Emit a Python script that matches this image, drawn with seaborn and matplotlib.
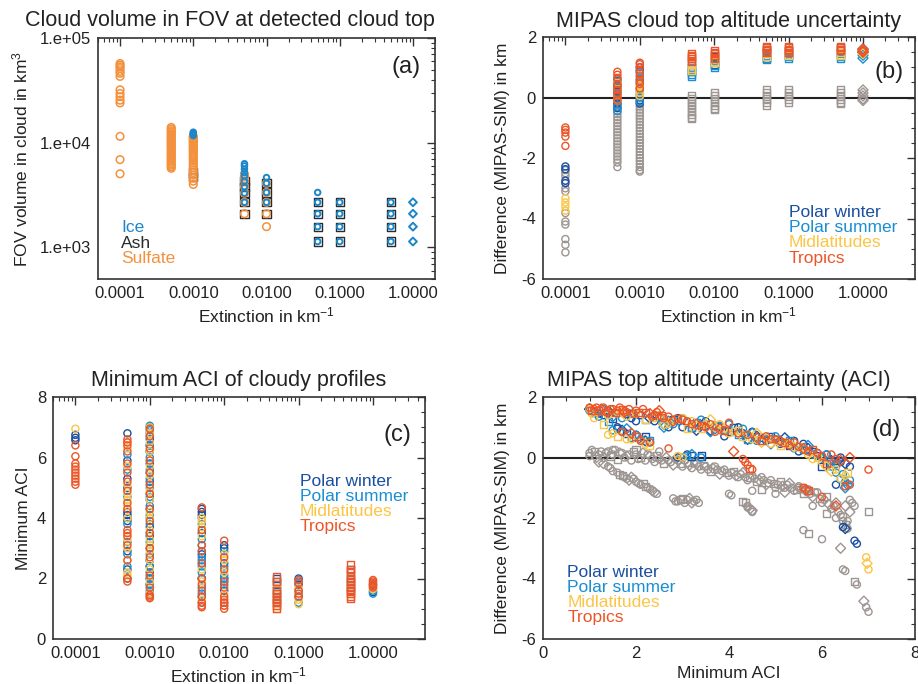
import numpy as np
import pandas as pd
import matplotlib
matplotlib.use("Agg")
import matplotlib.pyplot as plt
import seaborn as sns
from matplotlib.ticker import FixedLocator, FuncFormatter, LogLocator, MultipleLocator, NullFormatter

sns.set_style("white")
plt.rcParams["font.family"] = ["Liberation Sans", "DejaVu Sans"]
plt.rcParams["mathtext.fontset"] = "custom"
plt.rcParams["mathtext.rm"] = "Liberation Sans"
plt.rcParams["mathtext.it"] = "Liberation Sans:italic"
plt.rcParams["axes.unicode_minus"] = False

# ---------------- data ----------------
EXT = [1e-4, 5e-4, 1e-3, 5e-3, 1e-2, 5e-2, 1e-1, 5e-1, 1.0]
EXT_TICKS = [1e-4, 1e-3, 1e-2, 1e-1, 1.0]

# panel (a): FOV volume (km^3) per extinction column
A_SULFATE = [
    [57000, 55000, 53000, 51000, 48000, 46000, 43000, 32000, 29500, 27500, 25500, 24000, 11500, 6900, 5050],
    [14000, 13500, 13000, 12600, 12200, 11800, 11400, 11000, 10700, 10400, 10100, 9800, 9500, 9200,
     8900, 8600, 8300, 8000, 7750, 7500, 7250, 7000, 6750, 6500, 6300, 6100, 5900, 5700],
    [11500, 11200, 10900, 10600, 10300, 10000, 9700, 9400, 9100, 8800, 8500, 8200, 7900, 7600,
     7300, 7000, 6700, 6400, 6100, 5800, 5500, 5200, 4900, 4600, 4300, 4000],
    [5000, 4700, 4300, 3800, 3300, 2700, 2100],
    [4100, 3350, 2700, 2100, 1580],
    [], [], [], [],
]
A_ASH = [
    [], [], [5200, 4700],
    [4300, 3800, 3300, 2700, 2100],
    [4100, 3350, 2700, 2100],
    [2700, 2100, 1580, 1140],
    [2700, 2100, 1580, 1140],
    [2700, 2100, 1580, 1140],
    [],
]
A_ICE = [
    [], [], [12600, 12300, 12000, 11700],
    [6300, 6000, 5600, 5200, 4800, 4300, 3800, 3300, 2700],
    [4650, 4100, 3350, 2700],
    [3350, 2700, 2100, 1580, 1140],
    [2700, 2100, 1580, 1140],
    [2700, 2100, 1580, 1140],
    [2700, 2100, 1580, 1140],
]

# panel (b): MIPAS-SIM difference (km) per extinction column
B_WINTER = [
    [-2.28, -2.37, -2.75, -2.83],
    [0.55, 0.4, 0.2, 0.0, -0.2, -0.35],
    [1.0, 0.9, 0.6, 0.3, 0.1, -0.1, -0.2],
    [1.2, 1.0, 0.85],
    [1.35, 1.2, 1.1],
    [1.6, 1.5, 1.3],
    [1.55, 1.4],
    [1.65, 1.5],
    [1.6, 1.5],
]
B_SUMMER = [
    [],
    [0.6, 0.3, 0.1, -0.3, -0.45],
    [0.85, 0.5, 0.2, 0.0, -0.15],
    [1.0, 0.85, 0.75, 0.7],
    [1.2, 1.05, 1.0],
    [1.4, 1.3, 1.25],
    [1.45, 1.35, 1.3],
    [1.45, 1.35, 1.3],
    [1.5, 1.4, 1.3],
]
B_MID = [
    [-3.33, -3.47, -3.6, -3.74],
    [0.5, 0.25, 0.05, -0.1],
    [0.7, 0.4, 0.35, 0.15, 0.05],
    [1.1, 0.95, 0.9],
    [1.3, 1.2, 1.15],
    [1.45, 1.35],
    [1.5, 1.4],
    [1.5, 1.4],
    [1.55, 1.45],
]
B_TROPICS = [
    [-0.99, -1.07, -1.16, -1.29, -1.60],
    [0.85, 0.75, 0.65, 0.45, 0.35, 0.25, 0.15, 0.05, -0.1],
    [1.15, 1.1, 1.0, 0.8, 0.7, 0.55, 0.45, 0.3],
    [1.45, 1.4, 1.35, 1.3, 1.2],
    [1.55, 1.5, 1.45, 1.4, 1.3],
    [1.7, 1.65, 1.6, 1.55, 1.5],
    [1.7, 1.65, 1.6, 1.55, 1.5],
    [1.7, 1.65, 1.6, 1.55],
    [1.6, 1.55, 1.5],
]
B_GRAY = [
    [-2.4, -2.5, -2.6, -3.0, -3.1, -3.82, -4.1, -4.2, -4.68, -4.87, -5.12],
    [-0.05, -0.15, -0.25, -0.35, -0.45, -0.55, -0.65, -0.75, -0.85, -0.95, -1.05, -1.15, -1.25,
     -1.35, -1.45, -1.55, -1.65, -1.75, -1.85, -1.95, -2.05, -2.15, -2.3],
    [0.0, -0.1, -0.2, -0.3, -0.4, -0.5, -0.6, -0.7, -0.8, -0.9, -1.0, -1.1, -1.2, -1.3, -1.4,
     -1.5, -1.6, -1.7, -1.8, -1.9, -2.0, -2.1, -2.2, -2.3, -2.4, -2.45],
    [0.05, -0.05, -0.15, -0.25, -0.35, -0.45, -0.55, -0.65, -0.7],
    [0.15, 0.05, -0.05, -0.15, -0.25, -0.35, -0.4],
    [0.25, 0.15, 0.05, -0.05, -0.15, -0.25],
    [0.25, 0.15, 0.05, -0.05, -0.15],
    [0.25, 0.15, 0.05, -0.05, -0.15, -0.2],
    [0.25, 0.15, 0.05, -0.05, -0.1],
]

# panel (c): minimum ACI per extinction column
C_WINTER = [
    [6.75, 6.65, 6.57],
    [6.8, 5.9, 5.3, 5.0, 4.2, 4.1, 4.0, 3.9, 2.9, 2.3, 2.0],
    [7.0, 6.8, 6.6, 6.4, 6.2, 5.8, 5.5, 5.2, 4.8, 4.6, 4.3, 4.0, 3.7, 3.4, 3.0, 2.6, 2.4, 2.2,
     2.0, 1.8, 1.5],
    [4.3, 4.2, 4.1, 4.0, 3.5, 2.8, 2.0, 1.4],
    [3.1, 3.0, 2.5, 2.0, 1.6],
    [2.0, 1.8, 1.5, 1.2],
    [2.0, 1.8, 1.4],
    [2.3, 1.9, 1.6],
    [1.8, 1.55],
]
C_SUMMER = [
    [],
    [6.1, 5.6, 4.7, 3.8, 3.2, 2.8, 2.4],
    [7.05, 6.9, 6.7, 6.4, 6.2, 6.0, 5.6, 5.3, 5.0, 4.7, 4.4, 4.1, 3.8, 3.5, 3.2, 2.8, 2.6, 2.4,
     2.0, 1.8, 1.6],
    [3.8, 3.3, 3.1, 2.9, 2.7, 2.6, 2.5, 2.4, 2.2, 2.0, 1.7, 1.5, 1.2],
    [2.9, 2.4, 2.1, 2.0, 1.9, 1.8, 1.2],
    [1.9, 1.6, 1.3],
    [1.9, 1.6, 1.2],
    [2.0, 1.7],
    [1.6, 1.5],
]
C_MID = [
    [6.95],
    [6.5, 6.3, 5.7, 5.1, 4.8, 4.6, 4.4, 4.0, 3.3, 3.0, 2.6, 2.2, 2.1],
    [7.0, 6.8, 6.5, 6.2, 5.9, 5.7, 5.4, 5.1, 4.9, 4.6, 4.2, 4.0, 3.6, 3.3, 3.1, 2.9, 2.6, 2.3,
     2.1, 1.9, 1.7, 1.5],
    [4.0, 3.9, 3.7, 3.4, 2.3, 1.9, 1.3],
    [2.8, 2.6, 2.2, 1.5, 1.1],
    [1.7, 1.4, 1.1, 1.0],
    [1.7, 1.3, 1.15],
    [1.8, 1.5],
    [1.75, 1.7, 1.65],
]
C_TROPICS = [
    [6.4, 6.04, 5.8, 5.7, 5.6, 5.5, 5.4, 5.3, 5.2, 5.1],
    [6.6, 6.5, 6.4, 6.2, 5.8, 5.5, 5.2, 4.9, 4.5, 4.3, 3.6, 3.5, 3.4, 3.1, 2.6, 2.0, 1.9],
    [6.95, 6.7, 6.3, 5.9, 5.5, 5.1, 4.8, 4.3, 3.9, 3.5, 3.0, 2.7, 2.1, 1.7, 1.45, 1.4, 1.35],
    [4.35, 3.6, 3.1, 2.9, 2.5, 2.0, 1.8, 1.6, 1.4, 1.2, 1.1, 1.05],
    [3.25, 2.7, 2.3, 1.9, 1.7, 1.4, 1.3, 1.2, 1.1, 1.0],
    [2.05, 1.9, 1.6, 1.5, 1.4, 1.3, 1.2, 1.1, 1.0],
    [1.95, 1.85, 1.6, 1.5, 1.4],
    [2.45, 2.3, 2.2, 2.1, 2.0, 1.9, 1.8, 1.7, 1.6, 1.5, 1.4, 1.35],
    [1.95, 1.9, 1.85, 1.8, 1.75, 1.7],
]

# panel (d): (minimum ACI, difference) pairs
D_WINTER_X = [1.1, 1.3, 1.5, 1.6, 1.7, 1.9, 2.1, 2.2, 2.4, 2.6, 2.9, 3.0, 3.2, 3.4, 3.6, 3.8, 3.9, 4.1,
              4.3, 4.6, 4.8, 5.0, 5.3, 5.5, 5.7, 5.9, 6.1, 6.3, 6.4, 6.5, 6.6, 3.0, 3.2, 6.45, 6.5,
              6.7, 6.75, 6.0, 6.3,
              1.0, 1.2, 1.4, 1.8, 2.0, 2.3, 2.5, 2.7, 2.8, 3.1, 3.3, 3.5, 3.7, 4.0, 4.2, 4.4, 4.5,
              4.7, 4.9, 5.1, 5.2, 5.4, 5.6, 5.8, 6.0, 6.2, 6.4, 1.6, 1.8, 2.0, 2.2, 2.9, 3.1, 3.4]
D_WINTER_Y = [1.5, 1.4, 1.3, 1.0, 0.9, 1.3, 1.4, 0.7, 1.2, 1.1, 1.3, 1.0, 1.0, 1.1, 0.9, 1.0, 0.7, 1.0,
              0.8, 0.7, 0.55, 0.6, 0.4, 0.2, 0.3, 0.05, 0.1, -0.1, -0.15, -0.2, -0.3, 0.0, 0.05, -2.3,
              -2.35, -2.75, -2.85, -0.3, -0.9,
              1.6, 1.45, 1.55, 1.45, 1.2, 1.3, 1.35, 1.0, 1.25, 1.15, 0.9, 1.2, 1.05, 0.85, 1.0, 0.6,
              0.85, 0.65, 0.7, 0.45, 0.65, 0.55, 0.45, 0.2, 0.0, -0.1, 0.0, 0.95, 0.8, 0.75, 0.55,
              0.0, 0.1, 0.05]
D_SUMMER_X = [1.0, 1.2, 1.4, 1.6, 1.8, 2.0, 2.1, 2.3, 2.5, 2.7, 2.8, 3.1, 3.3, 3.5, 3.7, 3.9, 4.1, 4.4,
              4.6, 4.9, 5.1, 5.4, 5.6, 5.8, 6.0, 6.2, 6.3, 6.4, 6.5, 6.55, 6.6, 6.2,
              1.1, 1.3, 1.5, 1.7, 1.9, 2.2, 2.4, 2.6, 2.9, 3.0, 3.2, 3.4, 3.6, 3.8, 4.0, 4.2, 4.3,
              4.5, 4.8, 5.0, 5.3, 5.5, 5.7, 5.9, 6.1, 6.3, 6.45, 6.5, 1.5, 1.7, 1.9, 2.3, 3.2, 3.4]
D_SUMMER_Y = [1.55, 1.35, 1.2, 1.45, 0.95, 0.75, 0.6, 0.55, 1.3, 1.2, 1.1, 0.05, 1.15, 1.1, 0.95, 0.9,
              0.85, 0.6, 0.55, 0.45, 0.55, 0.3, 0.25, 0.1, 0.0, -0.3, -0.5, -0.7, -0.8, -0.9, -0.75, -0.2,
              1.5, 1.6, 1.35, 1.3, 1.45, 1.25, 1.4, 1.0, 1.2, 1.3, 1.0, 1.25, 0.85, 1.05, 1.1, 0.75,
              0.95, 0.8, 0.6, 0.7, 0.55, 0.35, 0.4, 0.15, 0.1, -0.2, -0.55, -1.0, 0.9, 0.85, 0.65,
              0.5, 0.1, 0.0]
D_MID_X = [1.0, 1.1, 1.3, 1.5, 1.7, 1.9, 2.1, 2.3, 2.5, 2.7, 2.9, 3.0, 3.1, 3.3, 3.6, 3.8, 4.0, 4.2,
           4.4, 4.7, 4.9, 5.2, 5.5, 5.8, 6.1, 6.3, 6.5, 6.55, 6.95, 6.97, 7.0,
           1.05, 1.2, 1.4, 1.6, 1.8, 2.0, 2.2, 2.4, 2.6, 2.8, 3.2, 3.4, 3.5, 3.7, 3.9, 4.1, 4.3,
           4.5, 4.6, 4.8, 5.0, 5.1, 5.3, 5.4, 5.6, 5.7, 5.9, 6.0, 6.2, 6.4, 1.4, 1.6, 1.8, 2.2, 3.0]
D_MID_Y = [1.6, 1.3, 1.1, 0.8, 1.5, 0.6, 0.55, 0.4, 1.4, 1.15, 0.05, 1.3, 0.95, 1.05, 1.25, 1.1, 0.8, 0.9,
           0.75, 0.5, 0.45, 0.5, 0.35, -0.05, -0.3, -0.4, -0.6, -0.5, -3.3, -3.5, -3.7,
           1.45, 1.55, 1.4, 1.5, 1.35, 1.45, 1.25, 1.3, 1.1, 1.2, 1.2, 0.95, 1.1, 1.0, 0.95, 0.85,
           0.7, 0.6, 0.8, 0.65, 0.55, 0.4, 0.45, 0.35, 0.3, 0.1, 0.0, -0.15, -0.45, -0.7, 0.75, 0.7,
           0.6, 0.45, 0.0]
D_TROPICS_X = [1.0, 1.1, 1.2, 1.3, 1.4, 1.5, 1.6, 1.7, 1.8, 1.9, 2.0, 2.1, 2.2, 2.4, 2.5, 2.6, 2.7, 2.9,
               3.1, 3.3, 3.5, 3.7, 3.9, 4.0, 4.1, 4.3, 4.4, 4.45, 4.5, 4.6, 4.8, 5.0, 5.2, 5.4, 5.6,
               5.7, 5.9, 6.1, 6.3, 6.6, 6.6, 5.6, 5.7, 6.0, 6.3, 7.0, 6.2,
               1.05, 1.15, 1.25, 1.35, 1.45, 1.55, 1.65, 1.75, 1.85, 1.95, 2.05, 2.15, 2.3, 2.35,
               2.45, 2.55, 2.7, 2.8, 3.0, 3.2, 3.4, 3.6, 3.8, 4.2, 4.4, 4.7, 4.9, 5.1, 5.3, 5.5, 5.8,
               6.0, 6.4, 6.5, 1.7, 2.0, 2.3, 5.65, 4.35]
D_TROPICS_Y = [1.65, 1.6, 1.55, 1.65, 1.5, 1.6, 1.55, 1.6, 1.5, 0.8, 1.55, 0.55, 1.5, 1.4, 1.55, 1.3,
               0.3, 1.3, 1.2, 1.1, 1.0, 0.85, 0.9, 1.15, 0.2, -0.05, -0.25, -0.35, -0.4, 0.65, 0.7,
               0.6, 0.5, 0.5, 0.3, 0.2, 0.15, -0.2, -0.05, 0.0, -0.9, -1.0, -1.1, -1.3, -1.6, -0.4, 0.1,
               1.55, 1.65, 1.6, 1.5, 1.6, 1.5, 1.65, 1.5, 1.6, 1.45, 1.5, 1.6, 1.45, 1.35, 1.5, 1.4,
               1.35, 1.2, 1.25, 1.1, 1.05, 1.1, 0.95, 0.8, 0.75, 0.55, 0.6, 0.55, 0.4, 0.35, 0.25,
               0.05, -0.1, -0.95, 0.85, 0.7, 0.5, -1.05, -0.15]
D_GRAY_X = [1.0, 1.0, 1.1, 1.2, 1.3, 1.4, 1.5, 1.6, 1.7, 1.8, 1.9, 2.0, 2.1, 2.2, 2.3, 2.4, 2.5, 2.6,
            2.7, 2.8, 2.9, 3.0, 3.1, 3.2, 3.3, 3.4, 3.5, 3.6, 3.7, 3.8, 3.9, 4.0, 4.1, 4.2, 4.3, 4.4,
            4.5, 4.6, 4.7, 4.8, 4.9, 5.0, 5.1, 5.2, 5.3, 5.4, 5.5, 5.6, 5.7, 5.8, 5.9, 6.0, 6.1, 6.2,
            6.3, 6.4, 6.45, 6.5, 6.55, 6.6, 6.6, 1.5, 2.0, 2.5,
            1.2, 1.4, 1.5, 1.7, 1.8, 1.9, 2.0, 2.1, 2.2, 2.3, 2.4, 2.8, 2.9, 3.0, 3.1, 3.2, 3.3, 4.0,
            4.3, 4.4, 4.45, 4.5, 5.6, 5.7, 6.0, 6.4, 6.45, 6.5, 6.7, 6.75, 6.9, 6.95, 7.0, 7.0,
            1.05, 1.15, 1.25, 1.35, 1.45, 1.55, 1.65, 1.75, 1.85, 1.95, 2.05, 2.15, 2.25, 2.35,
            2.45, 2.55, 2.65, 2.75, 2.85, 2.95, 3.05, 3.15, 3.25, 3.35, 3.45, 3.55, 3.65, 3.75,
            3.85, 3.95, 4.05, 4.15, 4.25, 4.35, 4.45, 4.55, 4.65, 4.75, 4.85, 4.95, 5.05, 5.15,
            5.25, 5.35, 5.45, 5.55, 5.65, 5.75, 5.85, 5.95, 6.05, 6.15, 6.25, 6.35, 6.45, 6.55,
            1.3, 1.45, 1.6, 1.65, 1.75, 1.85, 1.95, 2.05, 2.15, 2.25, 2.35, 2.45, 2.85, 2.95, 3.05,
            3.15, 3.25, 3.35, 4.35, 4.4, 4.5, 4.05, 4.5, 4.7, 5.0, 5.2, 5.5, 5.8, 6.1, 6.3, 6.5,
            6.65, 6.7]
D_GRAY_Y = [0.15, 0.05, 0.2, 0.1, 0.0, 0.2, 0.1, -0.05, 0.15, 0.05, -0.1, 0.1, 0.0, -0.1, 0.05, -0.15,
            -0.05, -0.2, -0.1, -0.25, -0.1, -0.3, -0.15, -0.35, -0.2, -0.4, -0.3, -0.45, -0.3, -0.55,
            -0.4, -0.6, -0.45, -0.65, -0.5, -0.75, -0.6, -0.8, -0.65, -0.9, -0.75, -1.0, -0.8, -1.0,
            -0.85, -1.1, -0.95, -1.2, -1.05, -1.3, -1.15, -1.5, -1.3, -1.7, -1.5, -1.9, -2.1, -2.2,
            -2.35, -1.8, -1.4, 0.25, 0.25, 0.2,
            -0.15, -0.3, -0.45, -0.6, -0.7, -0.65, -0.8, -0.9, -0.95, -1.05, -1.15, -1.35, -1.45,
            -1.35, -1.4, -1.5, -1.4, -1.2, -1.45, -1.6, -1.7, -1.8, -2.4, -2.5, -2.7, -3.0, -3.7,
            -3.75, -4.1, -4.2, -4.75, -4.95, -5.1, -1.8,
            0.25, 0.0, 0.2, 0.15, 0.05, 0.25, 0.15, 0.0, 0.1, 0.2, -0.05, 0.15, 0.1, -0.05, 0.05,
            -0.1, 0.0, -0.15, -0.05, -0.2, -0.1, -0.25, -0.2, -0.3, -0.25, -0.4, -0.35, -0.4, -0.45,
            -0.5, -0.5, -0.6, -0.55, -0.65, -0.65, -0.7, -0.75, -0.75, -0.85, -0.85, -0.9, -0.95,
            -0.9, -1.0, -1.05, -1.05, -1.1, -1.2, -1.15, -1.35, -1.4, -1.55, -1.6, -1.8, -1.95, -2.1,
            -0.2, -0.35, -0.5, -0.55, -0.65, -0.75, -0.7, -0.85, -0.85, -1.0, -1.1, -1.2, -1.45,
            -1.4, -1.5, -1.35, -1.45, -1.5, -1.5, -1.65, -1.75, -1.25, -1.1, -1.05, -1.2, -1.15,
            -1.0, -1.6, -1.85, -2.0, -1.6, -1.5, -1.6]

REGIONS = ["Polar winter", "Polar summer", "Midlatitudes", "Tropics"]
TYPES = ["Ice", "Ash", "Sulfate"]

# ---------------- style ----------------
C_WIN = "#1b4f9f"
C_SUM = "#1a8ed3"
C_MIDC = "#fbc546"
C_TRO = "#ec5527"
C_GRAY = "#9d9592"
C_ICE = "#1c86c9"
C_ASH = "#2b2b2b"
C_SUL = "#f3913d"
FRAME = "#333333"

COL_MARK_B = ["o", "o", "o", "s", "s", "s", "s", "s", "D"]
COL_MARK_C = ["o", "o", "o", "o", "o", "s", "o", "s", "o"]
D_MARK_CYCLE = ["o", "o", "s", "o", "D"]

fig = plt.figure(figsize=(9.18, 6.84), dpi=100)
W, H = 918, 684


def add_ax(l, t, r, b):
    return fig.add_axes([l / W, (H - b) / H, (r - l) / W, (b - t) / H])


axA = add_ax(98, 38, 435, 279)
axB = add_ax(543, 37, 915, 279)
axC = add_ax(53, 397, 425, 639)
axD = add_ax(543, 397, 915, 639)


def scat(ax, x, y, color, marker, s=26, lw=1.0):
    if len(x) == 0:
        return
    sns.scatterplot(x=list(x), y=list(y), ax=ax, marker=marker, s=s, facecolors="none",
                    edgecolor=color, linewidth=lw, legend=False)


def columns_frame(cols, marks):
    rows = []
    for i, vals in enumerate(cols):
        for v in vals:
            rows.append((EXT[i], v, marks[i]))
    return pd.DataFrame(rows, columns=["x", "y", "m"])


def draw_columns(ax, cols, marks, color, s=26, lw=1.0):
    df = columns_frame(cols, marks)
    for m, g in df.groupby("m"):
        scat(ax, g["x"], g["y"], color, m, s=s, lw=lw)


def style_common(ax):
    for sp in ax.spines.values():
        sp.set_color(FRAME)
        sp.set_linewidth(1.2)
        sp.set_visible(True)
    ax.tick_params(which="both", direction="in", top=True, right=True, color=FRAME,
                   labelsize=12, labelcolor="#222222", pad=5)
    ax.tick_params(which="major", length=6, width=1.0)
    ax.tick_params(which="minor", length=3, width=0.8)
    ax.set_xlabel("")
    ax.set_ylabel("")


def log_ext_axis(ax, right):
    ax.set_xscale("log")
    ax.set_xlim(5e-5, right)
    ax.xaxis.set_major_locator(FixedLocator(EXT_TICKS))
    ax.xaxis.set_major_formatter(FuncFormatter(lambda v, p: f"{v:.4f}"))
    ax.xaxis.set_minor_locator(LogLocator(base=10, subs=np.arange(2, 10), numticks=30))
    ax.xaxis.set_minor_formatter(NullFormatter())


def int_fmt(v, p):
    return f"{int(round(v))}"


# ---------- panel (a) ----------
ax = axA
ax.set_yscale("log")
log_ext_axis(ax, 2.0)
ax.set_ylim(500, 1e5)
draw_columns(ax, A_ASH, ["s"] * 9, C_ASH, s=34, lw=1.0)
draw_columns(ax, A_SULFATE, ["o"] * 9, C_SUL, s=30, lw=1.1)
draw_columns(ax, A_ICE, ["o", "o", "o", "o", "o", "o", "o", "o", "D"], C_ICE, s=16, lw=1.4)
ax.yaxis.set_major_locator(FixedLocator([1e3, 1e4, 1e5]))
ax.yaxis.set_major_formatter(FuncFormatter(lambda v, p: "1.e+%02d" % int(round(np.log10(v)))))
ax.yaxis.set_minor_locator(LogLocator(base=10, subs=np.arange(2, 10), numticks=30))
ax.yaxis.set_minor_formatter(NullFormatter())
style_common(ax)
for txt, col, yy in zip(TYPES, [C_ICE, C_ASH, C_SUL], [0.212, 0.149, 0.083]):
    ax.text(0.068, yy, txt, color=col, fontsize=12.5, transform=ax.transAxes, va="center", ha="left")
ax.text(0.914, 0.88, "(a)", fontsize=17, transform=ax.transAxes, ha="center", va="center", color="#222222")
ax.text(0.392, 1.071, "Cloud volume in FOV at detected cloud top", fontsize=15.5,
        transform=ax.transAxes, ha="center", va="center", color="#222222")
ax.set_xlabel("Extinction in km$^{-1}$", fontsize=12.5, color="#222222")
ax.set_ylabel("FOV volume in cloud in km$^{3}$", fontsize=12.5, color="#222222")
ax.xaxis.set_label_coords(0.5, -0.11)
ax.yaxis.set_label_coords(-0.20, 0.5)

# ---------- panel (b) ----------
ax = axB
log_ext_axis(ax, 5.0)
ax.set_ylim(-6, 2)
ax.axhline(0, color="#222222", lw=1.5, zorder=1)
draw_columns(ax, B_GRAY, COL_MARK_B, C_GRAY)
draw_columns(ax, B_WINTER, COL_MARK_B, C_WIN)
draw_columns(ax, B_SUMMER, COL_MARK_B, C_SUM)
draw_columns(ax, B_MID, COL_MARK_B, C_MIDC)
draw_columns(ax, B_TROPICS, COL_MARK_B, C_TRO)
ax.yaxis.set_major_locator(MultipleLocator(2))
ax.yaxis.set_minor_locator(MultipleLocator(0.5))
ax.yaxis.set_major_formatter(FuncFormatter(int_fmt))
style_common(ax)
for txt, col, yy in zip(REGIONS, [C_WIN, C_SUM, C_MIDC, C_TRO], [0.273, 0.211, 0.149, 0.083]):
    ax.text(0.661, yy, txt, color=col, fontsize=12.5, transform=ax.transAxes, va="center", ha="left")
ax.text(0.930, 0.855, "(b)", fontsize=17, transform=ax.transAxes, ha="center", va="center", color="#222222")
ax.text(0.5, 1.062, "MIPAS cloud top altitude uncertainty", fontsize=15.5,
        transform=ax.transAxes, ha="center", va="center", color="#222222")
ax.set_xlabel("Extinction in km$^{-1}$", fontsize=12.5, color="#222222")
ax.set_ylabel("Difference (MIPAS-SIM) in km", fontsize=12.5, color="#222222")
ax.xaxis.set_label_coords(0.5, -0.11)
ax.yaxis.set_label_coords(-0.088, 0.5)

# ---------- panel (c) ----------
ax = axC
log_ext_axis(ax, 5.0)
ax.set_ylim(0, 8)
draw_columns(ax, C_WINTER, COL_MARK_C, C_WIN)
draw_columns(ax, C_SUMMER, COL_MARK_C, C_SUM)
draw_columns(ax, C_MID, COL_MARK_C, C_MIDC)
draw_columns(ax, C_TROPICS, COL_MARK_C, C_TRO)
ax.yaxis.set_major_locator(MultipleLocator(2))
ax.yaxis.set_minor_locator(MultipleLocator(0.5))
ax.yaxis.set_major_formatter(FuncFormatter(int_fmt))
style_common(ax)
for txt, col, yy in zip(REGIONS, [C_WIN, C_SUM, C_MIDC, C_TRO], [0.649, 0.587, 0.525, 0.463]):
    ax.text(0.664, yy, txt, color=col, fontsize=12.5, transform=ax.transAxes, va="center", ha="left")
ax.text(0.927, 0.843, "(c)", fontsize=17, transform=ax.transAxes, ha="center", va="center", color="#222222")
ax.text(0.5, 1.070, "Minimum ACI of cloudy profiles", fontsize=15.5,
        transform=ax.transAxes, ha="center", va="center", color="#222222")
ax.set_xlabel("Extinction in km$^{-1}$", fontsize=12.5, color="#222222")
ax.set_ylabel("Minimum ACI", fontsize=12.5, color="#222222")
ax.xaxis.set_label_coords(0.5, -0.11)
ax.yaxis.set_label_coords(-0.059, 0.5)

# ---------- panel (d) ----------
ax = axD
ax.set_xlim(0, 8)
ax.set_ylim(-6, 2)
ax.axhline(0, color="#222222", lw=1.5, zorder=1)
for xs, ys, col in [(D_GRAY_X, D_GRAY_Y, C_GRAY), (D_WINTER_X, D_WINTER_Y, C_WIN),
                    (D_SUMMER_X, D_SUMMER_Y, C_SUM), (D_MID_X, D_MID_Y, C_MIDC),
                    (D_TROPICS_X, D_TROPICS_Y, C_TRO)]:
    df = pd.DataFrame({"x": xs, "y": ys})
    df["m"] = [D_MARK_CYCLE[i % len(D_MARK_CYCLE)] for i in range(len(df))]
    for m, g in df.groupby("m"):
        scat(ax, g["x"], g["y"], col, m)
ax.xaxis.set_major_locator(MultipleLocator(2))
ax.xaxis.set_minor_locator(MultipleLocator(0.5))
ax.yaxis.set_major_locator(MultipleLocator(2))
ax.yaxis.set_minor_locator(MultipleLocator(0.5))
ax.xaxis.set_major_formatter(FuncFormatter(int_fmt))
ax.yaxis.set_major_formatter(FuncFormatter(int_fmt))
style_common(ax)
for txt, col, yy in zip(REGIONS, [C_WIN, C_SUM, C_MIDC, C_TRO], [0.273, 0.211, 0.149, 0.087]):
    ax.text(0.065, yy, txt, color=col, fontsize=12.5, transform=ax.transAxes, va="center", ha="left")
ax.text(0.922, 0.864, "(d)", fontsize=17, transform=ax.transAxes, ha="center", va="center", color="#222222")
ax.text(0.473, 1.070, "MIPAS top altitude uncertainty (ACI)", fontsize=15.5,
        transform=ax.transAxes, ha="center", va="center", color="#222222")
ax.set_xlabel("Minimum ACI", fontsize=12.5, color="#222222")
ax.set_ylabel("Difference (MIPAS-SIM) in km", fontsize=12.5, color="#222222")
ax.xaxis.set_label_coords(0.5, -0.11)
ax.yaxis.set_label_coords(-0.088, 0.5)

fig.savefig("out.png", dpi=100, facecolor="white")
